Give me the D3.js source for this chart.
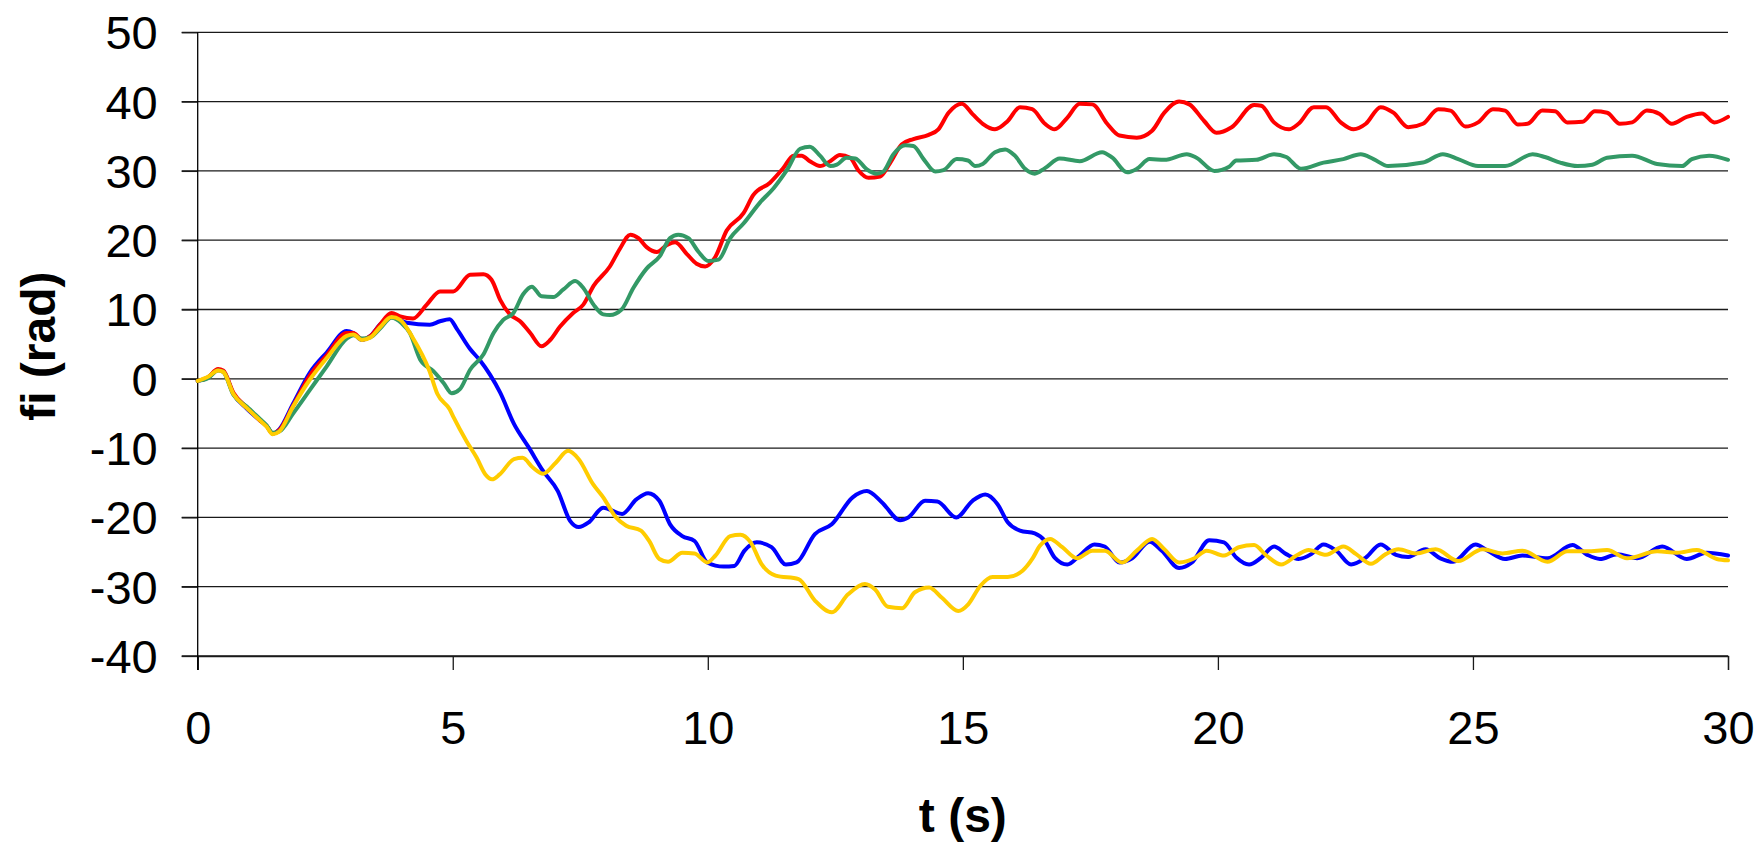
<!DOCTYPE html>
<html>
<head>
<meta charset="utf-8">
<script src="https://cdn.jsdelivr.net/npm/d3@7"></script>
<style>
  html, body { margin: 0; padding: 0; background: #fff; }
  svg { display: block; }
  text { font-family: "Liberation Sans", Arial, sans-serif; fill: #000; }
</style>
</head>
<body>
<svg id="chart" width="1762" height="844"></svg>
<script>
// Angle fi (rad) of four oscillators over time t (s): [t, fi] samples
const blueSeries = [[0,-0.3],[0.2,0.2],[0.4,1.3],[0.5,1.1],[0.7,-2.2],[0.96,-4.3],[1.22,-6.0],[1.35,-6.8],[1.47,-7.9],[1.6,-7.3],[1.87,-3.6],[2.2,0.9],[2.53,3.8],[2.92,6.9],[3.05,6.6],[3.22,5.6],[3.39,6.2],[3.57,7.8],[3.8,9.0],[4.1,8.1],[4.55,7.8],[4.75,8.3],[4.94,8.6],[5.08,7.2],[5.34,4.3],[5.54,2.6],[5.73,0.6],[5.93,-2.0],[6.2,-6.5],[6.49,-9.9],[6.77,-13.3],[7.06,-16.2],[7.3,-20.5],[7.47,-21.4],[7.67,-20.7],[7.95,-18.6],[8.32,-19.5],[8.6,-17.4],[8.83,-16.5],[9.05,-17.6],[9.26,-21.0],[9.5,-22.7],[9.74,-23.4],[9.99,-26.5],[10.31,-27.1],[10.52,-27.0],[10.72,-24.8],[10.96,-23.6],[11.25,-24.3],[11.53,-26.8],[11.74,-26.5],[12.1,-22.4],[12.43,-21.0],[12.84,-17.1],[13.12,-16.2],[13.41,-17.8],[13.77,-20.4],[13.93,-20.0],[14.26,-17.6],[14.5,-17.7],[14.87,-20.0],[15.19,-17.6],[15.44,-16.7],[15.68,-18.1],[15.88,-20.7],[16.12,-21.9],[16.41,-22.3],[16.61,-23.4],[16.8,-25.8],[17.05,-26.8],[17.29,-25.5],[17.58,-23.9],[17.78,-24.2],[18.07,-26.5],[18.32,-25.9],[18.66,-23.5],[18.9,-24.8],[19.24,-27.3],[19.49,-26.5],[19.83,-23.3],[20.12,-23.6],[20.36,-25.8],[20.61,-26.8],[20.85,-25.8],[21.1,-24.2],[21.34,-25.3],[21.58,-26.0],[21.83,-25.3],[22.07,-23.9],[22.32,-24.8],[22.61,-26.8],[22.9,-25.8],[23.19,-23.9],[23.49,-25.4],[23.73,-25.7],[24.07,-24.6],[24.36,-25.9],[24.61,-26.4],[25.05,-23.9],[25.29,-24.8],[25.63,-26.0],[25.97,-25.5],[26.46,-25.9],[26.95,-24.0],[27.24,-25.4],[27.49,-26.0],[27.83,-25.3],[28.22,-25.9],[28.71,-24.2],[29.19,-26.0],[29.58,-25.1],[30,-25.5]];

const redSeries = [[0,-0.3],[0.2,0.2],[0.4,1.4],[0.5,1.2],[0.7,-2.0],[0.96,-4.1],[1.22,-6.0],[1.35,-6.8],[1.47,-7.9],[1.6,-7.4],[1.87,-3.9],[2.2,0.5],[2.53,3.4],[2.92,6.6],[3.05,6.6],[3.22,5.7],[3.39,6.2],[3.57,7.8],[3.8,9.5],[3.97,9.0],[4.22,8.7],[4.49,10.7],[4.75,12.6],[5.01,12.6],[5.34,15.0],[5.6,15.1],[5.76,14.3],[5.93,11.4],[6.12,9.3],[6.32,8.3],[6.52,6.6],[6.74,4.7],[6.91,5.6],[7.1,7.5],[7.36,9.5],[7.56,10.7],[7.76,13.4],[8.08,16.2],[8.28,18.8],[8.48,20.8],[8.64,20.3],[8.8,19.0],[9.0,18.3],[9.2,19.3],[9.36,19.7],[9.59,18.0],[9.78,16.6],[9.95,16.2],[10.14,17.5],[10.37,21.4],[10.7,23.9],[10.89,26.5],[11.22,28.3],[11.48,30.4],[11.68,32.2],[11.84,32.2],[12.0,31.4],[12.2,30.7],[12.4,31.4],[12.59,32.3],[12.79,31.9],[12.95,30.1],[13.15,29.0],[13.38,29.2],[13.57,31.1],[13.8,33.8],[14.03,34.6],[14.33,35.2],[14.52,36.0],[14.72,38.4],[14.98,39.7],[15.19,38.2],[15.39,36.8],[15.63,36.0],[15.88,37.2],[16.12,39.2],[16.36,38.9],[16.61,36.8],[16.8,36.0],[17.05,37.7],[17.29,39.7],[17.54,39.6],[17.83,36.8],[18.07,35.1],[18.41,34.8],[18.71,35.8],[18.95,38.4],[19.24,40.0],[19.44,39.6],[19.73,37.2],[19.97,35.5],[20.27,36.3],[20.71,39.5],[20.85,39.4],[21.1,37.0],[21.39,36.0],[21.58,36.8],[21.88,39.2],[22.12,39.2],[22.41,37.0],[22.66,36.0],[22.9,36.8],[23.19,39.2],[23.44,38.4],[23.73,36.3],[24.02,36.8],[24.32,38.9],[24.56,38.7],[24.85,36.4],[25.1,37.0],[25.39,38.9],[25.63,38.7],[25.88,36.7],[26.07,36.8],[26.36,38.7],[26.61,38.6],[26.85,37.0],[27.15,37.1],[27.39,38.6],[27.63,38.4],[27.88,36.8],[28.12,37.0],[28.41,38.7],[28.66,38.2],[28.9,36.8],[29.19,37.8],[29.49,38.3],[29.73,37.0],[30,37.8]];

const greenSeries = [[0,-0.3],[0.2,0.1],[0.4,1.2],[0.5,1.0],[0.7,-2.3],[0.96,-4.0],[1.22,-5.8],[1.35,-6.7],[1.47,-7.8],[1.6,-7.6],[1.87,-5.0],[2.2,-1.6],[2.53,1.8],[2.92,5.8],[3.05,6.3],[3.22,5.8],[3.39,6.0],[3.57,7.2],[3.8,8.8],[4.0,8.0],[4.16,6.6],[4.36,2.8],[4.62,1.1],[4.82,-0.6],[4.98,-2.1],[5.14,-1.5],[5.34,1.3],[5.6,3.5],[5.8,6.6],[5.99,8.5],[6.19,9.5],[6.38,12.2],[6.55,13.3],[6.74,11.9],[6.97,11.8],[7.17,12.9],[7.4,14.1],[7.56,13.1],[7.76,10.7],[7.95,9.3],[8.08,9.2],[8.31,10.0],[8.54,13.1],[8.8,15.9],[9.06,17.7],[9.26,20.3],[9.42,20.8],[9.62,20.3],[9.82,18.3],[10.01,17.0],[10.21,17.2],[10.44,20.3],[10.7,22.4],[11.03,25.5],[11.29,27.5],[11.55,30.1],[11.81,33.2],[12.0,33.5],[12.2,32.2],[12.4,30.7],[12.53,30.9],[12.72,31.9],[12.89,31.8],[13.12,30.2],[13.31,29.6],[13.44,29.9],[13.64,32.4],[13.87,33.7],[14.03,33.6],[14.23,31.7],[14.46,29.9],[14.62,30.1],[14.88,31.7],[15.1,31.5],[15.24,30.7],[15.39,31.0],[15.63,32.7],[15.83,33.1],[16.02,32.2],[16.22,30.3],[16.41,29.6],[16.61,30.4],[16.9,31.8],[17.29,31.4],[17.73,32.7],[17.93,31.9],[18.22,29.8],[18.41,30.3],[18.66,31.7],[18.95,31.6],[19.39,32.4],[19.58,31.9],[19.93,30.0],[20.22,30.6],[20.36,31.5],[20.75,31.6],[21.1,32.4],[21.34,32.0],[21.63,30.3],[22.07,31.2],[22.46,31.7],[22.8,32.4],[23.05,31.7],[23.34,30.7],[24.02,31.2],[24.41,32.4],[24.71,31.7],[25.1,30.7],[25.63,30.7],[26.17,32.4],[26.41,32.0],[26.71,31.2],[27.05,30.7],[27.34,30.9],[27.63,31.9],[28.12,32.2],[28.61,31.0],[29.1,30.7],[29.29,31.7],[29.63,32.2],[30,31.6]];

const yellowSeries = [[0,-0.3],[0.2,0.3],[0.4,1.2],[0.5,1.0],[0.7,-2.2],[0.96,-4.2],[1.22,-6.0],[1.35,-6.9],[1.47,-8.0],[1.6,-7.6],[1.87,-4.0],[2.2,-0.1],[2.53,3.0],[2.92,6.2],[3.05,6.4],[3.22,5.6],[3.39,6.0],[3.57,7.4],[3.8,8.9],[3.97,8.5],[4.21,6.0],[4.54,1.2],[4.7,-2.2],[4.94,-4.4],[5.02,-5.6],[5.27,-9.0],[5.47,-11.4],[5.64,-13.8],[5.77,-14.5],[5.92,-13.8],[6.2,-11.6],[6.37,-11.4],[6.57,-12.8],[6.77,-13.7],[7.02,-12.1],[7.26,-10.4],[7.47,-11.6],[7.75,-15.2],[7.95,-17.1],[8.2,-20.0],[8.4,-21.2],[8.69,-21.9],[8.85,-23.4],[9.05,-26.0],[9.22,-26.4],[9.5,-25.1],[9.74,-25.2],[9.99,-26.5],[10.15,-25.5],[10.44,-22.7],[10.64,-22.5],[10.84,-23.6],[11.05,-26.7],[11.33,-28.4],[11.78,-28.9],[12.1,-32.0],[12.43,-33.7],[12.75,-31.1],[13.08,-29.6],[13.28,-30.4],[13.53,-32.9],[13.81,-33.1],[14.06,-30.8],[14.34,-30.1],[14.59,-31.6],[14.91,-33.5],[15.11,-32.5],[15.34,-29.9],[15.58,-28.6],[15.88,-28.6],[16.17,-27.7],[16.36,-26.0],[16.51,-24.1],[16.71,-23.1],[16.95,-24.3],[17.24,-25.9],[17.54,-24.8],[17.78,-24.8],[18.12,-26.5],[18.41,-24.8],[18.71,-23.1],[18.95,-24.6],[19.24,-26.5],[19.54,-25.9],[19.78,-24.8],[20.12,-25.5],[20.41,-24.3],[20.71,-24.0],[20.95,-25.5],[21.24,-26.8],[21.54,-25.5],[21.78,-24.7],[22.12,-25.4],[22.46,-24.2],[22.71,-25.3],[23.0,-26.7],[23.29,-25.3],[23.54,-24.6],[23.88,-25.2],[24.27,-24.6],[24.71,-26.3],[25.19,-24.6],[25.58,-25.2],[25.97,-24.8],[26.46,-26.4],[26.85,-24.9],[27.24,-24.9],[27.63,-24.7],[28.02,-25.9],[28.61,-24.9],[29.0,-25.1],[29.39,-24.7],[29.78,-26.0],[30,-26.2]];

const seriesColors = ["#0000FF", "#FF0000", "#339966", "#FFCC00"];
const xTickValues = [0, 5, 10, 15, 20, 25, 30];
const yTickValues = [-40, -30, -20, -10, 0, 10, 20, 30, 40, 50];
const xTitle = "t (s)";
const yTitle = "fi (rad)";

const svg = d3.select("#chart");
const plot = { left: 197.7, right: 1728, top: 32.3, bottom: 656 };

const x = d3.scaleLinear().domain([0, 30]).range([plot.left, plot.right]);
const y = d3.scaleLinear().domain([-40, 50]).range([plot.bottom, plot.top]);

// plain hyphen-minus for negative tick labels
const tickLabel = d => String(d);

// horizontal gridlines, starting at the outer end of the y ticks
svg.append("g")
  .selectAll("line")
  .data(yTickValues)
  .join("line")
  .attr("x1", plot.left - 16)
  .attr("x2", plot.right)
  .attr("y1", d => y(d))
  .attr("y2", d => y(d))
  .attr("stroke", "#1a1a1a")
  .attr("stroke-width", 1.3);

// y axis
const yAxis = svg.append("g")
  .attr("transform", `translate(${plot.left},0)`)
  .call(d3.axisLeft(y).tickValues(yTickValues).tickFormat(tickLabel).tickSize(16).tickPadding(24));
yAxis.select(".domain").remove();
yAxis.selectAll(".tick line").attr("stroke", "#1a1a1a").attr("stroke-width", 1.3);
yAxis.selectAll(".tick text")
  .attr("font-size", 47)
  .attr("dy", "0.35em")
  .style("font-family", '"Liberation Sans", Arial, sans-serif');

// x axis
const xAxis = svg.append("g")
  .attr("transform", `translate(0,${plot.bottom})`)
  .call(d3.axisBottom(x).tickValues(xTickValues).tickFormat(tickLabel).tickSize(14).tickPadding(41));
xAxis.select(".domain").attr("stroke", "#1a1a1a").attr("stroke-width", 1.3);
xAxis.selectAll(".tick line").attr("stroke", "#1a1a1a").attr("stroke-width", 1.3);
xAxis.selectAll(".tick text")
  .attr("font-size", 47)
  .style("font-family", '"Liberation Sans", Arial, sans-serif');

// vertical axis line, running down to the x tick marks
svg.append("line")
  .attr("x1", plot.left).attr("x2", plot.left)
  .attr("y1", plot.top).attr("y2", plot.bottom + 14)
  .attr("stroke", "#000").attr("stroke-width", 1.3);

// data lines
const line = d3.line()
  .x(d => x(d[0]))
  .y(d => y(d[1]))
  .curve(d3.curveMonotoneX);

[blueSeries, redSeries, greenSeries, yellowSeries].forEach((s, i) => {
  svg.append("path")
    .datum(s)
    .attr("fill", "none")
    .attr("stroke", seriesColors[i])
    .attr("stroke-width", 4)
    .attr("stroke-linejoin", "round")
    .attr("stroke-linecap", "round")
    .attr("d", line);
});

// axis titles
svg.append("text")
  .attr("x", (plot.left + plot.right) / 2)
  .attr("y", 832)
  .attr("text-anchor", "middle")
  .attr("font-size", 48)
  .attr("font-weight", "bold")
  .text(xTitle);

svg.append("text")
  .attr("transform", `translate(55,${(plot.top + plot.bottom) / 2 + 2}) rotate(-90)`)
  .attr("text-anchor", "middle")
  .attr("font-size", 48)
  .attr("font-weight", "bold")
  .text(yTitle);
</script>
</body>
</html>
